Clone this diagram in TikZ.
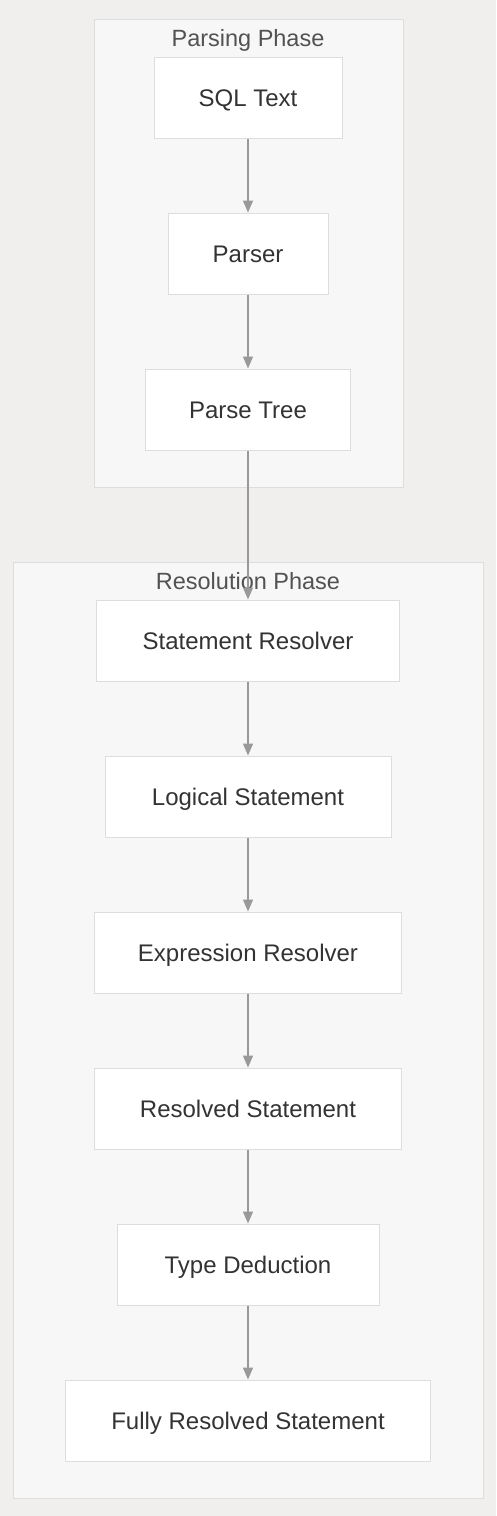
\documentclass[tikz,border=0pt]{standalone}
\usepackage{fontspec}
\setmainfont{Liberation Sans}
\usepackage{xcolor}
\usetikzlibrary{arrows.meta,positioning}
\definecolor{bgcol}{HTML}{F0EFEE}
\definecolor{clcol}{HTML}{F7F7F7}
\definecolor{edgecol}{HTML}{DDDDDD}
\definecolor{arrcol}{HTML}{999999}
\definecolor{txtcol}{HTML}{333333}
\begin{document}
\begin{tikzpicture}[x=1pt,y=-1pt,
  cluster/.style={draw=edgecol,fill=clcol,line width=1pt},
  title/.style={text=txtcol!85,font=\fontsize{23.5}{26}\selectfont,inner sep=0pt,
    text height=17pt,text depth=0pt},
  box/.style={rectangle,draw=edgecol,fill=white,line width=1pt,minimum height=81pt,
    text=txtcol,font=\fontsize{24}{27}\selectfont,text height=17pt,text depth=0pt},
  flow/.style={draw=arrcol,line width=1.3pt,-{Triangle[length=12pt,width=10pt]}}]
  \fill[bgcol] (0,0) rectangle (496,1516);
  \useasboundingbox (0,0) rectangle (496,1516);
  % phases
  \draw[cluster] (94,19) rectangle (403,487);
  \node[title] (parsing) at (248,38) {Parsing Phase};
  \draw[cluster] (13,562) rectangle (483,1498);
  \node[title] (resolution) at (248,581) {Resolution Phase};
  % steps
  \node[box,minimum width=188pt] (sql) at (248,97.5) {SQL Text};
  \node[box,minimum width=160pt] (parser) at (248,253.5) {Parser};
  \node[box,minimum width=205pt] (tree) at (248,409.5) {Parse Tree};
  \node[box,minimum width=303pt] (stmtres) at (248,640.5) {Statement Resolver};
  \node[box,minimum width=286pt] (logical) at (248,796.5) {Logical Statement};
  \node[box,minimum width=307pt] (exprres) at (248,952.5) {Expression Resolver};
  \node[box,minimum width=307pt] (resolved) at (248,1108.5) {Resolved Statement};
  \node[box,minimum width=262pt] (types) at (248,1264.5) {Type Deduction};
  \node[box,minimum width=365pt] (full) at (248,1420.5) {Fully Resolved Statement};
  % connectors
  \draw[flow] (sql) -- (parser);
  \draw[flow] (parser) -- (tree);
  \draw[flow] (tree) -- (stmtres);
  \draw[flow] (stmtres) -- (logical);
  \draw[flow] (logical) -- (exprres);
  \draw[flow] (exprres) -- (resolved);
  \draw[flow] (resolved) -- (types);
  \draw[flow] (types) -- (full);
\end{tikzpicture}
\end{document}
